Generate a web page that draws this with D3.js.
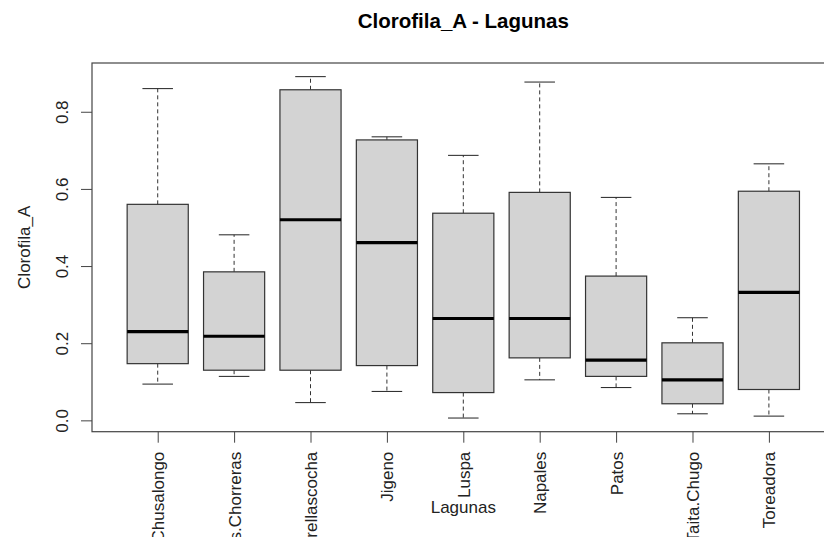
<!DOCTYPE html>
<html>
<head>
<meta charset="utf-8">
<script src="https://cdn.jsdelivr.net/npm/d3@7"></script>
<style>
  body { margin: 0; background: #fff; }
  svg { font-family: "Liberation Sans", Arial, sans-serif; }
</style>
</head>
<body>
<div class="display-svg"></div>
<script>
// five-number summaries
var lagunas   = ['Chusalongo', 'Tres.Chorreras', 'Estrellascocha', 'Jigeno', 'Luspa', 'Napales', 'Patos', 'Taita.Chugo', 'Toreadora'];
var whiskLow  = [0.094, 0.114, 0.046, 0.075, 0.006, 0.105, 0.085, 0.017, 0.011];
var q1        = [0.147, 0.130, 0.130, 0.142, 0.072, 0.162, 0.114, 0.043, 0.080];
var medians   = [0.230, 0.218, 0.520, 0.461, 0.264, 0.264, 0.156, 0.105, 0.332];
var q3        = [0.560, 0.385, 0.857, 0.727, 0.537, 0.591, 0.374, 0.201, 0.594];
var whiskHigh = [0.860, 0.481, 0.891, 0.735, 0.687, 0.877, 0.578, 0.266, 0.665];
var yTicks    = [0, 0.2, 0.4, 0.6, 0.8];

var width = 824,
    height = 537,
    plotL = 92, plotR = 834.6, plotT = 63, plotB = 431.7;

var svg = d3.select('.display-svg')
  .append('svg')
  .attr('width', width)
  .attr('height', height);

svg.append('rect').attr('width', width).attr('height', height).attr('fill', '#fff');

// R style: 4% padding around the data
var lo = d3.min(whiskLow), hi = d3.max(whiskHigh), pad = (hi - lo) * 0.04;

var x = d3.scaleLinear()
  .domain([0.5 - 9 * 0.04, 9.5 + 9 * 0.04])
  .range([plotL, plotR]);

var y = d3.scaleLinear()
  .domain([lo - pad, hi + pad])
  .range([plotB, plotT]);

var boxW = (x(1) - x(0)) * 0.8;

var g = svg.selectAll('g.box')
  .data(lagunas)
  .enter()
  .append('g')
  .attr('class', 'box');

// whiskers
g.append('line')
  .attr('x1', (d, i) => x(i + 1)).attr('x2', (d, i) => x(i + 1))
  .attr('y1', (d, i) => y(q3[i])).attr('y2', (d, i) => y(whiskHigh[i]))
  .attr('stroke', '#333').attr('stroke-dasharray', '4,3');
g.append('line')
  .attr('x1', (d, i) => x(i + 1)).attr('x2', (d, i) => x(i + 1))
  .attr('y1', (d, i) => y(q1[i])).attr('y2', (d, i) => y(whiskLow[i]))
  .attr('stroke', '#333').attr('stroke-dasharray', '4,3');

// staples
g.append('line')
  .attr('x1', (d, i) => x(i + 1) - boxW / 4).attr('x2', (d, i) => x(i + 1) + boxW / 4)
  .attr('y1', (d, i) => y(whiskHigh[i])).attr('y2', (d, i) => y(whiskHigh[i]))
  .attr('stroke', '#222');
g.append('line')
  .attr('x1', (d, i) => x(i + 1) - boxW / 4).attr('x2', (d, i) => x(i + 1) + boxW / 4)
  .attr('y1', (d, i) => y(whiskLow[i])).attr('y2', (d, i) => y(whiskLow[i]))
  .attr('stroke', '#222');

// boxes
g.append('rect')
  .attr('x', (d, i) => x(i + 1) - boxW / 2)
  .attr('y', (d, i) => y(q3[i]))
  .attr('width', boxW)
  .attr('height', (d, i) => y(q1[i]) - y(q3[i]))
  .attr('fill', '#d3d3d3')
  .attr('stroke', '#333')
  .attr('stroke-width', 1.2);

// medians
g.append('line')
  .attr('x1', (d, i) => x(i + 1) - boxW / 2).attr('x2', (d, i) => x(i + 1) + boxW / 2)
  .attr('y1', (d, i) => y(medians[i])).attr('y2', (d, i) => y(medians[i]))
  .attr('stroke', '#000').attr('stroke-width', 3.2);

// frame
svg.append('rect')
  .attr('x', plotL).attr('y', plotT)
  .attr('width', plotR - plotL).attr('height', plotB - plotT)
  .attr('fill', 'none').attr('stroke', '#444').attr('stroke-width', 1.2);

// y axis
var yAxis = d3.axisLeft(y).tickValues(yTicks).tickSize(11).tickFormat(d3.format('.1f'));
var yg = svg.append('g')
  .attr('transform', 'translate(' + plotL + ',0)')
  .call(yAxis);
yg.select('.domain').remove();
yg.selectAll('line').attr('stroke', '#444');
yg.selectAll('text')
  .attr('x', 0).attr('y', 0).attr('dy', null)
  .attr('text-anchor', 'middle')
  .attr('fill', '#222')
  .style('font-size', '17px')
  .attr('transform', d => 'translate(' + (-24 - plotL + plotL) + ',' + 0 + ') rotate(-90)');
yg.selectAll('.tick').each(function(d) {
  d3.select(this).select('text').attr('transform', 'translate(-24,0) rotate(-90)');
});

// x axis
var xAxis = d3.axisBottom(x).tickValues(d3.range(1, 10)).tickSize(11).tickFormat(d => lagunas[d - 1]);
var xg = svg.append('g')
  .attr('transform', 'translate(0,' + plotB + ')')
  .call(xAxis);
xg.select('.domain').remove();
xg.selectAll('line').attr('stroke', '#444');
xg.selectAll('text')
  .attr('x', 0).attr('y', 0).attr('dy', '0.35em')
  .attr('text-anchor', 'end')
  .attr('fill', '#222')
  .style('font-size', '17px')
  .attr('transform', 'translate(0,20) rotate(-90)');

// labels
svg.append('text')
  .attr('x', (plotL + plotR) / 2).attr('y', 28)
  .attr('text-anchor', 'middle')
  .style('font-size', '20.5px').style('font-weight', 'bold')
  .text('Clorofila_A - Lagunas');

svg.append('text')
  .attr('x', (plotL + plotR) / 2).attr('y', 513)
  .attr('text-anchor', 'middle')
  .attr('fill', '#222')
  .style('font-size', '17px')
  .text('Lagunas');

svg.append('text')
  .attr('transform', 'translate(30,' + (plotT + plotB) / 2 + ') rotate(-90)')
  .attr('text-anchor', 'middle')
  .attr('fill', '#222')
  .style('font-size', '17px')
  .text('Clorofila_A');
</script>
</body>
</html>
